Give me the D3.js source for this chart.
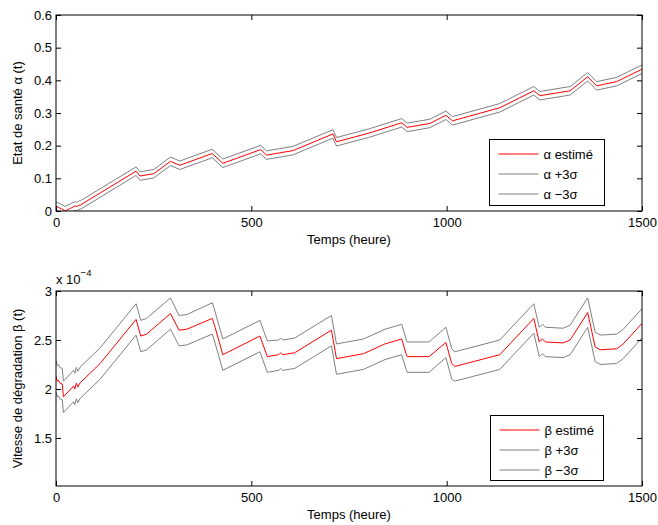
<!DOCTYPE html>
<html>
<head>
<meta charset="utf-8">
<script src="https://cdn.jsdelivr.net/npm/d3@7"></script>
<style>
  html, body { margin: 0; padding: 0; background: #fff; }
  svg { display: block; font-family: "Liberation Sans", Arial, Helvetica, sans-serif; }
</style>
</head>
<body>
<svg id="chart" width="658" height="525"></svg>
<script>
// ---------- Data ----------
// Top plot: health state alpha(t)
const hoursA = [0, 8, 15, 23, 40, 50, 53, 58, 62, 205, 215, 250, 293, 317, 400, 427, 524, 539, 573, 607, 709, 718, 800, 885, 899, 957, 998, 1015, 1136, 1223, 1239, 1316, 1361, 1384, 1435, 1500];
const alphaEst = [0.015, 0.010, 0.006, 0.000, 0.010, 0.016, 0.012, 0.018, 0.018, 0.122, 0.107, 0.114, 0.152, 0.140, 0.176, 0.146, 0.188, 0.171, 0.178, 0.185, 0.236, 0.212, 0.238, 0.270, 0.256, 0.268, 0.293, 0.276, 0.316, 0.368, 0.353, 0.368, 0.411, 0.383, 0.396, 0.434];
const alphaUp = [0.027, 0.024, 0.020, 0.014, 0.024, 0.029, 0.025, 0.031, 0.031, 0.135, 0.120, 0.127, 0.165, 0.153, 0.189, 0.159, 0.201, 0.184, 0.191, 0.198, 0.249, 0.225, 0.251, 0.283, 0.269, 0.281, 0.306, 0.289, 0.329, 0.381, 0.366, 0.381, 0.424, 0.396, 0.409, 0.447];
const alphaLow = [0.003, -0.003, -0.007, -0.013, -0.003, 0.003, -0.001, 0.005, 0.005, 0.109, 0.094, 0.101, 0.139, 0.127, 0.163, 0.133, 0.175, 0.158, 0.165, 0.172, 0.223, 0.199, 0.225, 0.257, 0.243, 0.255, 0.280, 0.263, 0.303, 0.355, 0.340, 0.355, 0.398, 0.370, 0.383, 0.421];

// Bottom plot: degradation speed beta(t), in units of 1e-4
const hoursB = [0, 3, 6, 10, 16, 19, 45, 48, 52, 56, 61, 113, 205, 217, 232, 293, 315, 335, 400, 405, 427, 522, 541, 570, 575, 580, 611, 705, 718, 787, 842, 885, 896, 899, 955, 998, 1013, 1021, 1136, 1223, 1237, 1245, 1253, 1298, 1316, 1361, 1380, 1393, 1435, 1452, 1500];
const betaEst = [2.13, 2.08, 2.09, 2.06, 2.05, 1.92, 2.03, 2.00, 2.06, 2.02, 2.06, 2.26, 2.71, 2.54, 2.56, 2.77, 2.60, 2.61, 2.72, 2.66, 2.35, 2.54, 2.33, 2.35, 2.37, 2.35, 2.37, 2.60, 2.31, 2.36, 2.46, 2.51, 2.36, 2.33, 2.33, 2.475, 2.26, 2.23, 2.35, 2.72, 2.48, 2.51, 2.48, 2.47, 2.50, 2.78, 2.43, 2.40, 2.41, 2.46, 2.67];
const betaUp = [2.29, 2.24, 2.25, 2.22, 2.21, 2.08, 2.19, 2.16, 2.22, 2.18, 2.22, 2.42, 2.87, 2.70, 2.72, 2.93, 2.75, 2.76, 2.88, 2.82, 2.51, 2.70, 2.49, 2.50, 2.52, 2.50, 2.52, 2.75, 2.46, 2.51, 2.61, 2.66, 2.51, 2.48, 2.48, 2.63, 2.41, 2.38, 2.50, 2.87, 2.63, 2.66, 2.63, 2.62, 2.65, 2.93, 2.58, 2.55, 2.56, 2.61, 2.82];
const betaLow = [1.97, 1.92, 1.93, 1.90, 1.89, 1.76, 1.87, 1.84, 1.90, 1.86, 1.90, 2.10, 2.55, 2.38, 2.40, 2.61, 2.44, 2.45, 2.56, 2.50, 2.19, 2.38, 2.17, 2.19, 2.21, 2.19, 2.21, 2.44, 2.15, 2.20, 2.30, 2.35, 2.20, 2.17, 2.17, 2.32, 2.10, 2.08, 2.20, 2.57, 2.33, 2.36, 2.33, 2.32, 2.35, 2.63, 2.28, 2.25, 2.26, 2.31, 2.52];

const xTicks = [0, 500, 1000, 1500];
const yTicksA = [0, 0.1, 0.2, 0.3, 0.4, 0.5, 0.6];
const yTicksB = [1.5, 2, 2.5, 3];
const legendA = ["α estimé", "α +3σ", "α −3σ"];
const legendB = ["β estimé", "β +3σ", "β −3σ"];
const xLabel = "Temps (heure)";
const yLabelA = "Etat de santé α (t)";
const yLabelB = "Vitesse de dégradation β (t)";

// ---------- Drawing ----------
const svg = d3.select("#chart");
svg.append("rect").attr("width", 658).attr("height", 525).attr("fill", "#fff");

const RED = "#ff0000", GRAY = "#808080";
const FS = 13;

function panel(opts) {
  const {top, height, left, width, yDomain, yTicks, hours, est, up, low, legend, yLabel, legendBox, id} = opts;
  const g = svg.append("g").attr("transform", `translate(${left},${top})`);
  const x = d3.scaleLinear().domain([0, 1500]).range([0, width]);
  const y = d3.scaleLinear().domain(yDomain).range([height, 0]);

  g.append("clipPath").attr("id", id).append("rect").attr("width", width).attr("height", height);

  const line = d3.line().x(d => x(d[0])).y(d => y(d[1]));
  const series = [
    {vals: up, color: GRAY},
    {vals: low, color: GRAY},
    {vals: est, color: RED}
  ];
  const lg = g.append("g").attr("clip-path", `url(#${id})`);
  series.forEach(s => {
    lg.append("path")
      .datum(hours.map((h, i) => [h, s.vals[i]]))
      .attr("d", line)
      .attr("fill", "none")
      .attr("stroke", s.color)
      .attr("stroke-width", 1)
      .attr("stroke-linejoin", "round");
  });

  // Axes (ticks pointing inward, on all four sides)
  const fmt = d => String(d);
  const styleAxis = sel => {
    sel.select(".domain").remove();
    sel.selectAll("line").attr("stroke", "#000");
    sel.selectAll("text").attr("font-size", FS).attr("fill", "#000").attr("font-family", "Liberation Sans, Arial, sans-serif");
  };
  g.append("g").attr("transform", `translate(0,${height})`)
    .call(d3.axisBottom(x).tickValues(xTicks).tickFormat(fmt).tickSizeInner(-5).tickSizeOuter(0).tickPadding(7))
    .call(styleAxis);
  g.append("g")
    .call(d3.axisTop(x).tickValues(xTicks).tickFormat("").tickSizeInner(-5).tickSizeOuter(0))
    .call(styleAxis);
  g.append("g")
    .call(d3.axisLeft(y).tickValues(yTicks).tickFormat(fmt).tickSizeInner(-5).tickSizeOuter(0).tickPadding(4))
    .call(styleAxis);
  g.append("g").attr("transform", `translate(${width},0)`)
    .call(d3.axisRight(y).tickValues(yTicks).tickFormat("").tickSizeInner(-5).tickSizeOuter(0))
    .call(styleAxis);

  g.append("rect").attr("width", width).attr("height", height)
    .attr("fill", "none").attr("stroke", "#000").attr("stroke-width", 1);

  // Axis labels
  g.append("text").attr("x", width / 2).attr("y", height + 32.5)
    .attr("text-anchor", "middle").attr("font-size", FS).text(xLabel);
  g.append("text")
    .attr("transform", `translate(${21.7 - left},${height / 2}) rotate(-90)`)
    .attr("text-anchor", "middle").attr("font-size", FS).text(yLabel);

  // Legend
  const L = g.append("g").attr("transform", `translate(${legendBox.x - left},${legendBox.y - top})`);
  L.append("rect").attr("width", legendBox.w).attr("height", legendBox.h)
    .attr("fill", "#fff").attr("stroke", "#000").attr("stroke-width", 1);
  const colors = [RED, GRAY, GRAY];
  legend.forEach((t, i) => {
    const cy = 14.5 + i * 20;
    L.append("line").attr("x1", 9).attr("x2", 49).attr("y1", cy).attr("y2", cy)
      .attr("stroke", colors[i]).attr("stroke-width", 1);
    L.append("text").attr("x", 54).attr("y", cy + 4.6).attr("font-size", FS).text(t);
  });
  return g;
}

panel({
  id: "clipA", top: 15, height: 196, left: 56, width: 586,
  yDomain: [0, 0.6], yTicks: yTicksA,
  hours: hoursA, est: alphaEst, up: alphaUp, low: alphaLow,
  legend: legendA, yLabel: yLabelA,
  legendBox: {x: 489.5, y: 139.5, w: 115, h: 66}
});

const gB = panel({
  id: "clipB", top: 291, height: 195, left: 56, width: 586,
  yDomain: [1.01, 3], yTicks: yTicksB,
  hours: hoursB, est: betaEst, up: betaUp, low: betaLow,
  legend: legendB, yLabel: yLabelB,
  legendBox: {x: 490.5, y: 415.5, w: 113, h: 65}
});

// Exponent label "x 10^-4"
const ex = svg.append("text").attr("x", 56).attr("y", 284).attr("font-size", FS);
ex.append("tspan").text("x 10");
ex.append("tspan").attr("dy", -8).attr("font-size", 9.5).text("−4");
</script>
</body>
</html>
